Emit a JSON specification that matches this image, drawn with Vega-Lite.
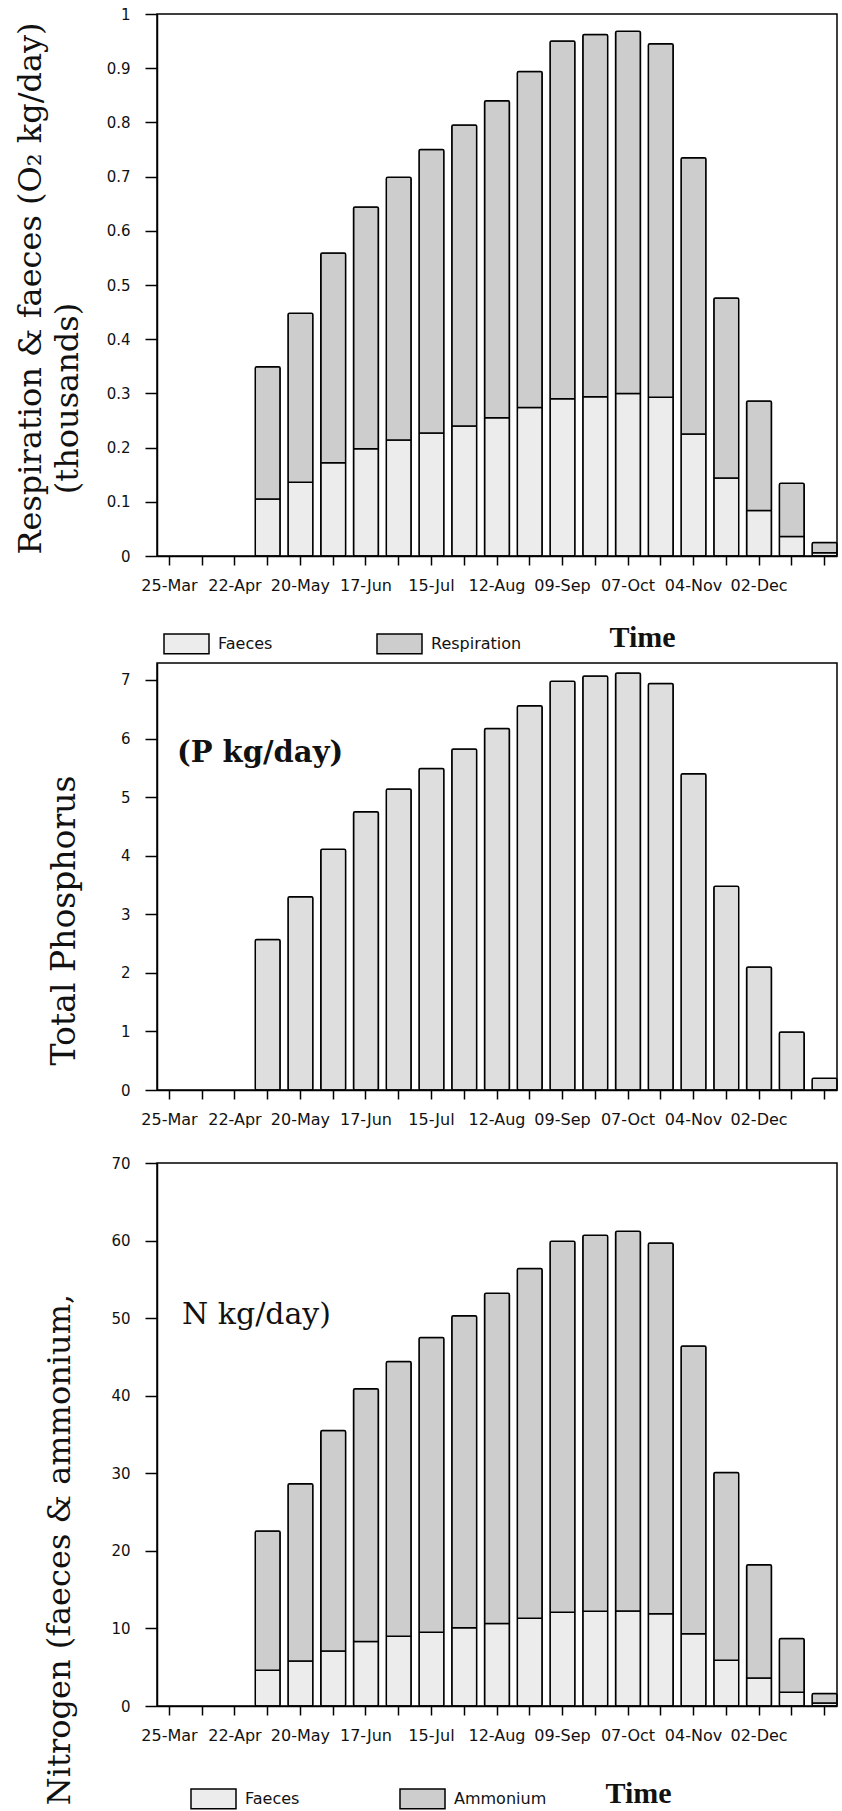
{
  "$schema": "https://vega.github.io/schema/vega-lite/v6.json",
  "background": "white",
  "autosize": {"type": "pad"},
  "padding": {"left": 13, "top": 6, "right": 0, "bottom": 0},
  "bounds": "flush",
  "spacing": 107,
  "resolve": {"scale": {"color": "independent"}, "legend": {"color": "independent"}},
  "datasets": {
    "resp": [
      {"period": "06-May", "series": "Faeces", "value": 0.105},
      {"period": "06-May", "series": "Respiration", "value": 0.244},
      {"period": "20-May", "series": "Faeces", "value": 0.136},
      {"period": "20-May", "series": "Respiration", "value": 0.312},
      {"period": "03-Jun", "series": "Faeces", "value": 0.172},
      {"period": "03-Jun", "series": "Respiration", "value": 0.387},
      {"period": "17-Jun", "series": "Faeces", "value": 0.198},
      {"period": "17-Jun", "series": "Respiration", "value": 0.446},
      {"period": "01-Jul", "series": "Faeces", "value": 0.214},
      {"period": "01-Jul", "series": "Respiration", "value": 0.485},
      {"period": "15-Jul", "series": "Faeces", "value": 0.227},
      {"period": "15-Jul", "series": "Respiration", "value": 0.523},
      {"period": "29-Jul", "series": "Faeces", "value": 0.240},
      {"period": "29-Jul", "series": "Respiration", "value": 0.555},
      {"period": "12-Aug", "series": "Faeces", "value": 0.255},
      {"period": "12-Aug", "series": "Respiration", "value": 0.585},
      {"period": "26-Aug", "series": "Faeces", "value": 0.274},
      {"period": "26-Aug", "series": "Respiration", "value": 0.620},
      {"period": "09-Sep", "series": "Faeces", "value": 0.290},
      {"period": "09-Sep", "series": "Respiration", "value": 0.660},
      {"period": "23-Sep", "series": "Faeces", "value": 0.294},
      {"period": "23-Sep", "series": "Respiration", "value": 0.668},
      {"period": "07-Oct", "series": "Faeces", "value": 0.300},
      {"period": "07-Oct", "series": "Respiration", "value": 0.668},
      {"period": "21-Oct", "series": "Faeces", "value": 0.293},
      {"period": "21-Oct", "series": "Respiration", "value": 0.652},
      {"period": "04-Nov", "series": "Faeces", "value": 0.225},
      {"period": "04-Nov", "series": "Respiration", "value": 0.510},
      {"period": "18-Nov", "series": "Faeces", "value": 0.144},
      {"period": "18-Nov", "series": "Respiration", "value": 0.332},
      {"period": "02-Dec", "series": "Faeces", "value": 0.084},
      {"period": "02-Dec", "series": "Respiration", "value": 0.202},
      {"period": "16-Dec", "series": "Faeces", "value": 0.036},
      {"period": "16-Dec", "series": "Respiration", "value": 0.098},
      {"period": "30-Dec", "series": "Faeces", "value": 0.006},
      {"period": "30-Dec", "series": "Respiration", "value": 0.019}
    ],
    "phos": [
      {"period": "06-May", "value": 2.57},
      {"period": "20-May", "value": 3.30},
      {"period": "03-Jun", "value": 4.11},
      {"period": "17-Jun", "value": 4.75},
      {"period": "01-Jul", "value": 5.14},
      {"period": "15-Jul", "value": 5.49},
      {"period": "29-Jul", "value": 5.82},
      {"period": "12-Aug", "value": 6.17},
      {"period": "26-Aug", "value": 6.56},
      {"period": "09-Sep", "value": 6.98},
      {"period": "23-Sep", "value": 7.07},
      {"period": "07-Oct", "value": 7.12},
      {"period": "21-Oct", "value": 6.94},
      {"period": "04-Nov", "value": 5.40},
      {"period": "18-Nov", "value": 3.48},
      {"period": "02-Dec", "value": 2.10},
      {"period": "16-Dec", "value": 0.99},
      {"period": "30-Dec", "value": 0.20}
    ],
    "nitro": [
      {"period": "06-May", "series": "Faeces", "value": 4.6},
      {"period": "06-May", "series": "Ammonium", "value": 17.95},
      {"period": "20-May", "series": "Faeces", "value": 5.8},
      {"period": "20-May", "series": "Ammonium", "value": 22.85},
      {"period": "03-Jun", "series": "Faeces", "value": 7.1},
      {"period": "03-Jun", "series": "Ammonium", "value": 28.4},
      {"period": "17-Jun", "series": "Faeces", "value": 8.3},
      {"period": "17-Jun", "series": "Ammonium", "value": 32.6},
      {"period": "01-Jul", "series": "Faeces", "value": 9.0},
      {"period": "01-Jul", "series": "Ammonium", "value": 35.4},
      {"period": "15-Jul", "series": "Faeces", "value": 9.5},
      {"period": "15-Jul", "series": "Ammonium", "value": 38.0},
      {"period": "29-Jul", "series": "Faeces", "value": 10.1},
      {"period": "29-Jul", "series": "Ammonium", "value": 40.2},
      {"period": "12-Aug", "series": "Faeces", "value": 10.65},
      {"period": "12-Aug", "series": "Ammonium", "value": 42.55},
      {"period": "26-Aug", "series": "Faeces", "value": 11.3},
      {"period": "26-Aug", "series": "Ammonium", "value": 45.1},
      {"period": "09-Sep", "series": "Faeces", "value": 12.1},
      {"period": "09-Sep", "series": "Ammonium", "value": 47.8},
      {"period": "23-Sep", "series": "Faeces", "value": 12.2},
      {"period": "23-Sep", "series": "Ammonium", "value": 48.5},
      {"period": "07-Oct", "series": "Faeces", "value": 12.25},
      {"period": "07-Oct", "series": "Ammonium", "value": 48.95},
      {"period": "21-Oct", "series": "Faeces", "value": 11.9},
      {"period": "21-Oct", "series": "Ammonium", "value": 47.8},
      {"period": "04-Nov", "series": "Faeces", "value": 9.3},
      {"period": "04-Nov", "series": "Ammonium", "value": 37.1},
      {"period": "18-Nov", "series": "Faeces", "value": 5.9},
      {"period": "18-Nov", "series": "Ammonium", "value": 24.2},
      {"period": "02-Dec", "series": "Faeces", "value": 3.6},
      {"period": "02-Dec", "series": "Ammonium", "value": 14.6},
      {"period": "16-Dec", "series": "Faeces", "value": 1.76},
      {"period": "16-Dec", "series": "Ammonium", "value": 6.94},
      {"period": "30-Dec", "series": "Faeces", "value": 0.4},
      {"period": "30-Dec", "series": "Ammonium", "value": 1.2}
    ]
  },
  "vconcat": [
    {
      "width": 680,
      "height": 542,
      "data": {"name": "resp"},
      "resolve": {"axis": {"y": "independent"}},
      "layer": [
        {
          "mark": {"type": "bar", "stroke": "#000", "strokeWidth": 1.5, "cornerRadius": 1.5},
          "encoding": {
            "x": {
              "field": "period", "type": "ordinal",
              "scale": {"domain": ["25-Mar","08-Apr","22-Apr","06-May","20-May","03-Jun","17-Jun","01-Jul","15-Jul","29-Jul","12-Aug","26-Aug","09-Sep","23-Sep","07-Oct","21-Oct","04-Nov","18-Nov","02-Dec","16-Dec","30-Dec"], "paddingInner": 0.24, "paddingOuter": 0},
              "axis": {
                "labelExpr": "indexof(['25-Mar','22-Apr','20-May','17-Jun','15-Jul','12-Aug','09-Sep','07-Oct','04-Nov','02-Dec'], datum.value) >= 0 ? datum.value : ''",
                "title": "Time", "titleX": 485, "titleY": 81
              }
            },
            "y": {
              "field": "value", "type": "quantitative", "stack": "zero",
              "scale": {"domain": [0, 1], "nice": false},
              "axis": {
                "values": [0, 0.1, 0.2, 0.3, 0.4, 0.5, 0.6, 0.7, 0.8, 0.9, 1],
                "format": "~g",
                "title": "Respiration & faeces (O₂ kg/day)",
                "titleX": -127, "titleY": 274, "titleFontSize": 32
              }
            },
            "color": {
              "field": "series", "type": "nominal",
              "scale": {"domain": ["Faeces", "Respiration"], "range": ["#ececec", "#cdcdcd"]},
              "legend": {"orient": "none", "legendX": 6, "legendY": 606, "columnPadding": 101}
            },
            "order": {"field": "series", "sort": "ascending"}
          }
        },
        {
          "mark": {"type": "bar", "opacity": 0},
          "encoding": {
            "x": {
              "field": "period", "type": "ordinal",
              "scale": {"domain": ["25-Mar","08-Apr","22-Apr","06-May","20-May","03-Jun","17-Jun","01-Jul","15-Jul","29-Jul","12-Aug","26-Aug","09-Sep","23-Sep","07-Oct","21-Oct","04-Nov","18-Nov","02-Dec","16-Dec","30-Dec"], "paddingInner": 0.24, "paddingOuter": 0}
            },
            "y": {
              "field": "value", "type": "quantitative", "stack": "zero",
              "scale": {"domain": [0, 1], "nice": false},
              "axis": {
                "orient": "left", "title": "(thousands)",
                "labels": false, "ticks": false, "domain": false,
                "titleX": -90, "titleY": 384, "titleFontSize": 32
              }
            }
          }
        }
      ]
    },
    {
      "bounds": "flush",
      "spacing": 73,
      "resolve": {"scale": {"color": "independent"}, "legend": {"color": "independent"}},
      "vconcat": [
        {
          "width": 680,
          "height": 427,
          "data": {"name": "phos"},
          "title": {"text": "(P  kg/day)", "anchor": "start", "frame": "group", "orient": "top", "offset": 0, "dx": 20, "dy": 119, "baseline": "middle", "font": "DejaVu Serif", "fontSize": 29, "fontWeight": "bold", "color": "#111"},
          "mark": {"type": "bar", "stroke": "#000", "strokeWidth": 1.5, "cornerRadius": 1.5, "fill": "#dedede"},
          "encoding": {
            "x": {
              "field": "period", "type": "ordinal",
              "scale": {"domain": ["25-Mar","08-Apr","22-Apr","06-May","20-May","03-Jun","17-Jun","01-Jul","15-Jul","29-Jul","12-Aug","26-Aug","09-Sep","23-Sep","07-Oct","21-Oct","04-Nov","18-Nov","02-Dec","16-Dec","30-Dec"], "paddingInner": 0.24, "paddingOuter": 0},
              "axis": {
                "labelExpr": "indexof(['25-Mar','22-Apr','20-May','17-Jun','15-Jul','12-Aug','09-Sep','07-Oct','04-Nov','02-Dec'], datum.value) >= 0 ? datum.value : ''",
                "title": null
              }
            },
            "y": {
              "field": "value", "type": "quantitative",
              "scale": {"domain": [0, 7.29], "nice": false},
              "axis": {
                "values": [0, 1, 2, 3, 4, 5, 6, 7],
                "title": "Total Phosphorus",
                "titleX": -93, "titleY": 257, "titleFontSize": 33
              }
            }
          }
        },
        {
          "width": 680,
          "height": 543,
          "data": {"name": "nitro"},
          "title": {"text": "N  kg/day)", "anchor": "start", "frame": "group", "orient": "top", "offset": 0, "dx": 25, "dy": 189, "baseline": "middle", "font": "DejaVu Serif", "fontSize": 30, "fontWeight": "normal", "color": "#111"},
          "mark": {"type": "bar", "stroke": "#000", "strokeWidth": 1.5, "cornerRadius": 1.5},
          "encoding": {
            "x": {
              "field": "period", "type": "ordinal",
              "scale": {"domain": ["25-Mar","08-Apr","22-Apr","06-May","20-May","03-Jun","17-Jun","01-Jul","15-Jul","29-Jul","12-Aug","26-Aug","09-Sep","23-Sep","07-Oct","21-Oct","04-Nov","18-Nov","02-Dec","16-Dec","30-Dec"], "paddingInner": 0.24, "paddingOuter": 0},
              "axis": {
                "labelExpr": "indexof(['25-Mar','22-Apr','20-May','17-Jun','15-Jul','12-Aug','09-Sep','07-Oct','04-Nov','02-Dec'], datum.value) >= 0 ? datum.value : ''",
                "title": "Time", "titleX": 481, "titleY": 87
              }
            },
            "y": {
              "field": "value", "type": "quantitative", "stack": "zero",
              "scale": {"domain": [0, 70], "nice": false},
              "axis": {
                "values": [0, 10, 20, 30, 40, 50, 60, 70],
                "title": "Nitrogen (faeces & ammonium,",
                "titleX": -98, "titleY": 386, "titleFontSize": 32
              }
            },
            "color": {
              "field": "series", "type": "nominal",
              "scale": {"domain": ["Faeces", "Ammonium"], "range": ["#ececec", "#cdcdcd"]},
              "legend": {"orient": "none", "legendX": 33, "legendY": 612, "columnPadding": 97}
            },
            "order": {"field": "series", "sort": "descending"}
          }
        }
      ]
    }
  ],
  "config": {
    "view": {"stroke": "#000", "strokeWidth": 1.5},
    "axis": {
      "domainColor": "#000", "domainWidth": 1.5,
      "tickColor": "#000", "tickWidth": 1.5,
      "labelColor": "#111", "titleColor": "#111",
      "grid": false,
      "labelFont": "DejaVu Sans"
    },
    "axisX": {
      "labelAngle": 0, "labelOverlap": false, "labelFontSize": 16,
      "tickSize": 9, "labelPadding": 12, "bandPosition": 0.5,
      "titleFont": "Liberation Serif", "titleFontSize": 30, "titleFontWeight": "bold",
      "titleBaseline": "middle", "titleAlign": "center"
    },
    "axisY": {
      "labelFontSize": 15, "tickSize": 12, "labelPadding": 15,
      "titleFont": "DejaVu Serif", "titleFontWeight": "normal",
      "titleBaseline": "middle", "titleAlign": "center", "titleAngle": -90
    },
    "legend": {
      "direction": "horizontal", "title": null,
      "symbolType": "M-1,-0.44H1V0.44H-1Z", "symbolSize": 2025,
      "symbolStrokeColor": "#000", "symbolStrokeWidth": 1.5,
      "labelFont": "DejaVu Sans", "labelFontSize": 16, "labelOffset": 8, "labelColor": "#111",
      "gridAlign": "each"
    }
  }
}
